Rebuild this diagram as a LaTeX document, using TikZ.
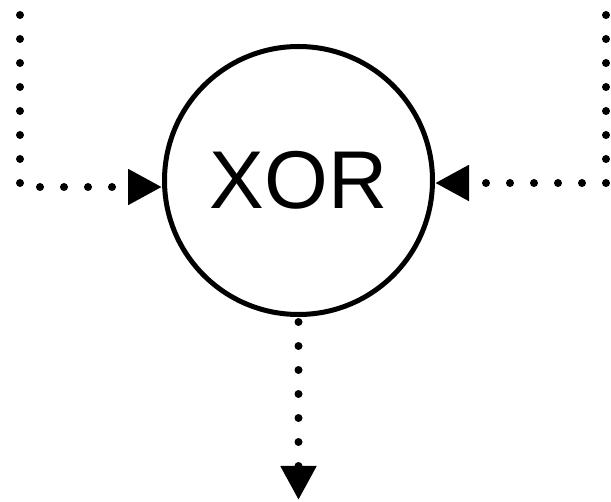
\documentclass[tikz,border=0pt]{standalone}
\usepackage{fontspec}
\setmainfont{Liberation Sans}
\usetikzlibrary{arrows.meta}

\begin{document}
\begin{tikzpicture}[x=1pt, y=-1pt,
	gate/.style={draw, circle, line width=5pt, minimum size=268pt, inner sep=0pt, font=\fontsize{82}{82}\selectfont},
	dotline/.style={line width=8pt, line cap=round, dash pattern=on 0pt off 24pt, -{Triangle[length=34pt, width=34pt]}}]
	\useasboundingbox (0,0) rectangle (611,502);
	\node[gate] (xor) at (298.5,180.5) {XOR};
	\coordinate (inA) at (20,15);
	\coordinate (inB) at (606,15);
	\coordinate (out) at (298.5,500);
	\draw[dotline] (inA) |- ([yshift=-6.5pt]xor.west);
	\draw[dotline] (inB) |- ([yshift=-2.5pt]xor.east);
	\draw[dotline, shorten <=5pt] (xor.south) -- (out);
\end{tikzpicture}
\end{document}
